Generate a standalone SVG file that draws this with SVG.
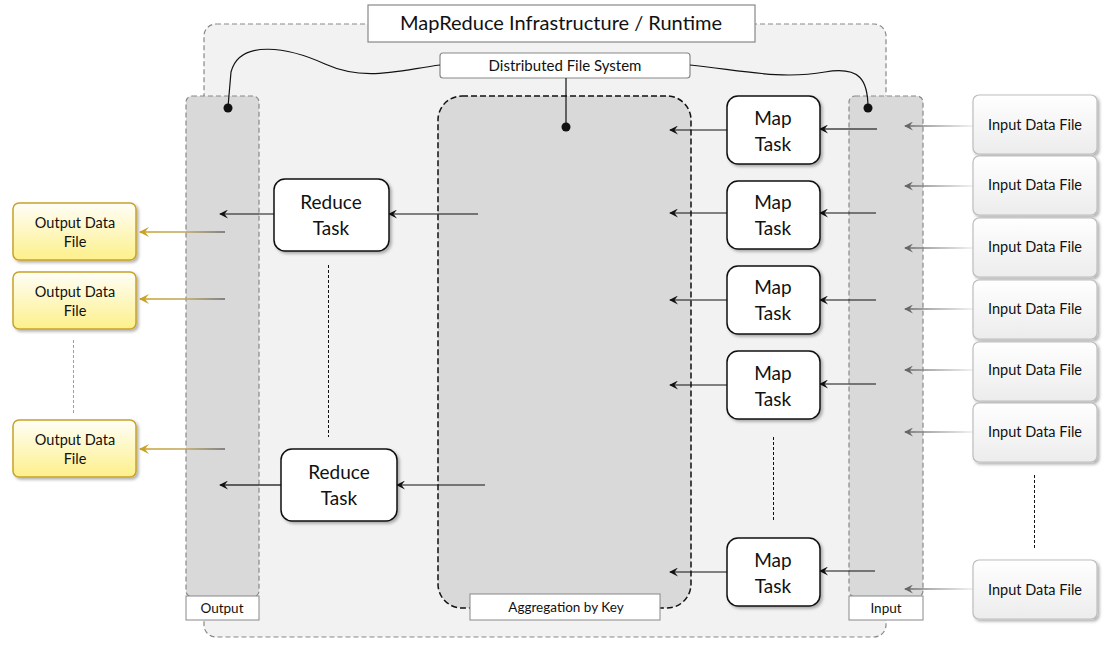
<svg xmlns="http://www.w3.org/2000/svg" width="1118" height="645" viewBox="0 0 1118 645">
<defs>
<style>
text{font-family:Lato,"Liberation Sans",sans-serif;fill:#111;text-anchor:middle}
.task{fill:#fff;stroke:#111;stroke-width:1.5}
.inp{fill:url(#gIn);stroke:#bdbdbd;stroke-width:1.2}
.out{fill:url(#gOut);stroke:#c9a227;stroke-width:1.5}
.lbl{fill:#fff;stroke:#888;stroke-width:1}
.col{fill:#d9d9d9;stroke:#888;stroke-width:1.2;stroke-dasharray:5 3}
.c{fill:none;stroke:#111;stroke-width:1.2}
.cg{fill:none;stroke-width:1.5}
.dash{stroke:#111;stroke-width:1;stroke-dasharray:3 2}
</style>
<linearGradient id="gIn" x1="0" y1="0" x2="0" y2="1"><stop offset="0" stop-color="#fff"/><stop offset="1" stop-color="#ececec"/></linearGradient>
<linearGradient id="gOut" x1="0" y1="0" x2="0" y2="1"><stop offset="0" stop-color="#fffef8"/><stop offset="1" stop-color="#fdf08a"/></linearGradient>
<linearGradient id="gArrIn" gradientUnits="userSpaceOnUse" x1="906" y1="0" x2="973" y2="0"><stop offset="0" stop-color="#666"/><stop offset="1" stop-color="#eee"/></linearGradient>
<linearGradient id="gArrOut" gradientUnits="userSpaceOnUse" x1="141" y1="0" x2="225" y2="0"><stop offset="0" stop-color="#c9a227"/><stop offset="0.55" stop-color="#bda560"/><stop offset="1" stop-color="#666"/></linearGradient>
<filter id="sh" x="-10%" y="-10%" width="130%" height="130%"><feDropShadow dx="2" dy="2" stdDeviation="1.5" flood-color="#000" flood-opacity="0.3"/></filter>
<marker id="ab" viewBox="0 0 10 10" refX="9" refY="5" markerWidth="9" markerHeight="9" markerUnits="userSpaceOnUse" orient="auto"><path d="M0,0 L10,5 L0,10 L4,5 Z" fill="#111"/></marker>
<marker id="ag" viewBox="0 0 10 10" refX="9" refY="5" markerWidth="9" markerHeight="9" markerUnits="userSpaceOnUse" orient="auto"><path d="M0,0 L10,5 L0,10 L4,5 Z" fill="#666"/></marker>
<marker id="ao" viewBox="0 0 10 10" refX="9" refY="5" markerWidth="10" markerHeight="10" markerUnits="userSpaceOnUse" orient="auto"><path d="M0,0 L10,5 L0,10 L4,5 Z" fill="#c9a227"/></marker>
</defs>

<g id="runtime">
<rect x="204" y="24" width="682" height="613" rx="12" fill="#f2f2f2" stroke="#888" stroke-width="1.2" stroke-dasharray="5 3"/>
<rect x="368" y="5" width="387" height="37" fill="#fff" stroke="#888" stroke-width="1.2"/>
<text x="561" y="30" font-size="20">MapReduce Infrastructure / Runtime</text>
</g>

<g id="output-col">
<rect class="col" x="186" y="96" width="73" height="501" rx="6"/>
<rect class="lbl" x="186" y="596" width="73" height="24"/>
<text x="222" y="613" font-size="13.5">Output</text>
</g>

<g id="aggregation">
<rect x="438" y="96" width="253" height="512" rx="24" fill="#d9d9d9" stroke="#111" stroke-width="1.5" stroke-dasharray="6 3"/>
<rect class="lbl" x="470" y="594" width="190" height="26"/>
<text x="566" y="612" font-size="13.5">Aggregation by Key</text>
</g>

<g id="input-col">
<rect class="col" x="849" y="96" width="74" height="501" rx="6"/>
<rect class="lbl" x="849" y="596" width="74" height="24"/>
<text x="886" y="613" font-size="13.5">Input</text>
</g>

<g id="dfs">
<rect x="440" y="53" width="250" height="25" rx="3" fill="#fff" stroke="#888" stroke-width="1.2"/>
<text x="565" y="71" font-size="15">Distributed File System</text>
</g>

<g id="connectors">
<path class="c" d="M440,65 C400,70 365,82 325,64 C290,48 240,38 231,72 L228,107"/>
<path class="c" d="M690,65 C740,70 780,80 825,72 C860,66 868,80 868,108"/>
<line class="c" x1="566" y1="78" x2="566" y2="127"/>
<circle cx="228" cy="108" r="4.5" fill="#111"/>
<circle cx="868" cy="108" r="4.5" fill="#111"/>
<circle cx="566" cy="127" r="4.5" fill="#111"/>

<line class="c" x1="727" y1="130" x2="670" y2="130" marker-end="url(#ab)"/>
<line class="c" x1="727" y1="213" x2="670" y2="213" marker-end="url(#ab)"/>
<line class="c" x1="727" y1="300" x2="670" y2="300" marker-end="url(#ab)"/>
<line class="c" x1="727" y1="385" x2="670" y2="385" marker-end="url(#ab)"/>
<line class="c" x1="727" y1="572" x2="670" y2="572" marker-end="url(#ab)"/>

<line x1="877" y1="129" x2="820" y2="129" stroke="#444" stroke-width="1.5" marker-end="url(#ab)"/>
<line class="c" x1="876" y1="213" x2="820" y2="213" marker-end="url(#ab)"/>
<line class="c" x1="876" y1="300" x2="820" y2="300" marker-end="url(#ab)"/>
<line class="c" x1="876" y1="384" x2="820" y2="384" marker-end="url(#ab)"/>
<line class="c" x1="875" y1="571" x2="820" y2="571" marker-end="url(#ab)"/>

<g stroke="url(#gArrIn)">
<path class="cg" d="M973,126 L905,126" marker-end="url(#ag)"/>
<path class="cg" d="M973,186 L905,186" marker-end="url(#ag)"/>
<path class="cg" d="M973,248 L905,248" marker-end="url(#ag)"/>
<path class="cg" d="M973,309 L905,309" marker-end="url(#ag)"/>
<path class="cg" d="M973,370 L905,370" marker-end="url(#ag)"/>
<path class="cg" d="M973,432 L905,432" marker-end="url(#ag)"/>
<path class="cg" d="M973,589 L905,589" marker-end="url(#ag)"/>
</g>

<line class="c" x1="478" y1="214" x2="389" y2="214" marker-end="url(#ab)"/>
<line class="c" x1="485" y1="485" x2="397" y2="485" marker-end="url(#ab)"/>

<line class="c" x1="274" y1="214" x2="220" y2="214" marker-end="url(#ab)"/>
<line x1="281" y1="485" x2="220" y2="485" stroke="#333" stroke-width="1.5" marker-end="url(#ab)"/>

<g stroke="url(#gArrOut)">
<path class="cg" d="M225,232 L140,232" marker-end="url(#ao)"/>
<path class="cg" d="M225,299 L140,299" marker-end="url(#ao)"/>
<path class="cg" d="M225,449 L140,449" marker-end="url(#ao)"/>
</g>

<line class="dash" x1="328.5" y1="265" x2="328.5" y2="437"/>
<line class="dash" x1="773.5" y1="437" x2="773.5" y2="522"/>
<line class="dash" x1="1034.5" y1="475" x2="1034.5" y2="550"/>
<line x1="73.5" y1="340" x2="73.5" y2="414" stroke="#c9a227" stroke-width="1" stroke-dasharray="3 2"/>
</g>

<g id="map1"><rect class="task" x="727" y="96" width="93" height="68" rx="11" filter="url(#sh)"/><text x="773" y="125" font-size="19">Map</text><text x="773" y="151" font-size="19">Task</text></g>
<g id="map2"><rect class="task" x="727" y="181" width="93" height="68" rx="11" filter="url(#sh)"/><text x="773" y="209" font-size="19">Map</text><text x="773" y="235" font-size="19">Task</text></g>
<g id="map3"><rect class="task" x="727" y="266" width="93" height="68" rx="11" filter="url(#sh)"/><text x="773" y="294" font-size="19">Map</text><text x="773" y="320" font-size="19">Task</text></g>
<g id="map4"><rect class="task" x="727" y="351" width="93" height="68" rx="11" filter="url(#sh)"/><text x="773" y="380" font-size="19">Map</text><text x="773" y="406" font-size="19">Task</text></g>
<g id="map5"><rect class="task" x="727" y="538" width="93" height="68" rx="11" filter="url(#sh)"/><text x="773" y="567" font-size="19">Map</text><text x="773" y="593" font-size="19">Task</text></g>

<g id="reduce1"><rect class="task" x="274" y="179" width="115" height="72" rx="11" filter="url(#sh)"/><text x="331" y="209" font-size="19">Reduce</text><text x="331" y="235" font-size="19">Task</text></g>
<g id="reduce2"><rect class="task" x="281" y="449" width="116" height="72" rx="11" filter="url(#sh)"/><text x="339" y="479" font-size="19">Reduce</text><text x="339" y="505" font-size="19">Task</text></g>

<g id="in1"><rect class="inp" x="973" y="95" width="124" height="59" rx="6" filter="url(#sh)"/><text x="1035" y="130" font-size="14.5">Input Data File</text></g>
<g id="in2"><rect class="inp" x="973" y="156" width="124" height="59" rx="6" filter="url(#sh)"/><text x="1035" y="190" font-size="14.5">Input Data File</text></g>
<g id="in3"><rect class="inp" x="973" y="218" width="124" height="59" rx="6" filter="url(#sh)"/><text x="1035" y="252" font-size="14.5">Input Data File</text></g>
<g id="in4"><rect class="inp" x="973" y="280" width="124" height="59" rx="6" filter="url(#sh)"/><text x="1035" y="314" font-size="14.5">Input Data File</text></g>
<g id="in5"><rect class="inp" x="973" y="342" width="124" height="59" rx="6" filter="url(#sh)"/><text x="1035" y="375" font-size="14.5">Input Data File</text></g>
<g id="in6"><rect class="inp" x="973" y="403" width="124" height="59" rx="6" filter="url(#sh)"/><text x="1035" y="437" font-size="14.5">Input Data File</text></g>
<g id="in7"><rect class="inp" x="973" y="560" width="124" height="59" rx="6" filter="url(#sh)"/><text x="1035" y="595" font-size="14.5">Input Data File</text></g>

<g id="out1"><rect class="out" x="13" y="203" width="123" height="57" rx="6" filter="url(#sh)"/><text x="75" y="228" font-size="14.5">Output Data</text><text x="75" y="247" font-size="14.5">File</text></g>
<g id="out2"><rect class="out" x="13" y="272" width="123" height="57" rx="6" filter="url(#sh)"/><text x="75" y="297" font-size="14.5">Output Data</text><text x="75" y="316" font-size="14.5">File</text></g>
<g id="out3"><rect class="out" x="13" y="420" width="123" height="57" rx="6" filter="url(#sh)"/><text x="75" y="445" font-size="14.5">Output Data</text><text x="75" y="464" font-size="14.5">File</text></g>
</svg>
